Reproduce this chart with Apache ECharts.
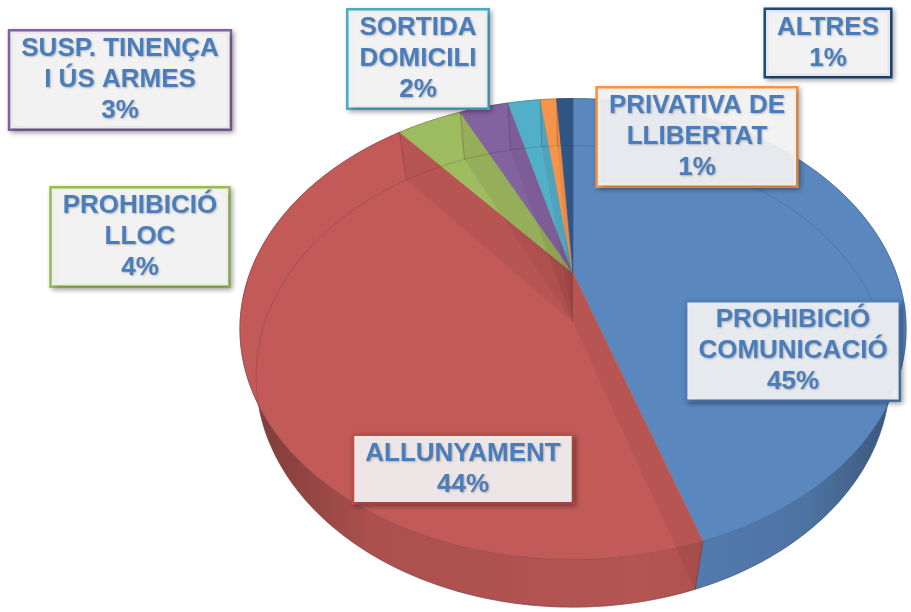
<!DOCTYPE html>
<html>
<head>
<meta charset="utf-8">
<script src="https://cdn.jsdelivr.net/npm/echarts@6/dist/echarts.min.js"></script>
<style>
  html, body { margin: 0; padding: 0; background: #fff; }
  #main { width: 911px; height: 612px; }
</style>
</head>
<body>
<div id="main"></div>
<script>
// dades
const categories = ['PROHIBICIÓ\nCOMUNICACIÓ', 'ALLUNYAMENT', 'PROHIBICIÓ\nLLOC', 'SUSP. TINENÇA\nI ÚS ARMES', 'SORTIDA\nDOMICILI', 'PRIVATIVA DE\nLLIBERTAT', 'ALTRES'];
const values = [45, 44, 4, 3, 2, 1, 1];
const colors = ['#5b87bf', '#c25b58', '#9dbb5f', '#8263a0', '#52afc8', '#f6954a', '#2f5685'];
const borderColors = ['#4f81bd', '#c0504d', '#9bbb59', '#8064a2', '#4bacc6', '#f79646', '#1f497d'];
// posició de les etiquetes (centre de la caixa)
const labelPos = [[793, 351], [463, 469], [140, 237], [120, 80], [418, 59], [697, 137], [828, 43]];

const total = values.reduce((a, b) => a + b, 0);
let acc = 0;
const pieData = values.map((v, i) => {
  const item = { name: categories[i], value: [acc, v, i] };
  acc += v;
  return item;
});

// enfosquir un color
function shade(hex, k) {
  const c = echarts.color.parse(hex);
  return 'rgb(' + Math.round(c[0] * k) + ',' + Math.round(c[1] * k) + ',' + Math.round(c[2] * k) + ')';
}

// perspectiva del pastís 3D
const cx = 573, cy = 273, f = 985, D = 3.049, sa = 0.671, ca = 0.741, h = 0.218;
function proj(theta, r, y) {
  const X = r * Math.sin(theta), Z = -r * Math.cos(theta);
  const depth = D - y * sa - Z * ca;
  return [cx + f * X / depth, cy + f * (Z * sa - y * ca) / depth];
}
function angles(api) {
  const a0 = api.value(0) / total * Math.PI * 2;
  const a1 = (api.value(0) + api.value(1)) / total * Math.PI * 2;
  return [a0, a1];
}
function arc(a0, a1, y) {
  const n = Math.max(2, Math.ceil((a1 - a0) / (Math.PI / 180)));
  const pts = [];
  for (let k = 0; k <= n; k++) pts.push(proj(a0 + (a1 - a0) * k / n, 1, y));
  return pts;
}

const chartDom = document.getElementById('main');
const myChart = echarts.init(chartDom);

const option = {
  backgroundColor: '#fff',
  animation: false,
  series: [
    {
      // parets exteriors
      type: 'custom',
      coordinateSystem: 'none',
      z: 1,
      data: pieData,
      renderItem: (params, api) => {
        const [a0, a1] = angles(api);
        const i = api.value(2);
        const top = arc(a0, a1, 0);
        const bot = arc(a0, a1, -h).reverse();
        const base = colors[i];
        return {
          type: 'polygon',
          shape: { points: top.concat(bot) },
          style: {
            fill: {
              type: 'linear', x: 235, y: 0, x2: 910, y2: 0, global: true,
              colorStops: [
                { offset: 0, color: shade(base, 0.62) },
                { offset: 0.2, color: shade(base, 0.88) },
                { offset: 0.6, color: shade(base, 0.93) },
                { offset: 0.85, color: shade(base, 0.85) },
                { offset: 1, color: shade(base, 0.6) }
              ]
            },
            stroke: shade(base, 0.8),
            lineWidth: 0.6
          }
        };
      }
    },
    {
      // cara superior
      type: 'custom',
      coordinateSystem: 'none',
      z: 2,
      data: pieData,
      renderItem: (params, api) => {
        const [a0, a1] = angles(api);
        const i = api.value(2);
        const pts = [proj(0, 0, 0)].concat(arc(a0, a1, 0));
        return {
          type: 'polygon',
          shape: { points: pts },
          style: { fill: colors[i], stroke: colors[i], lineWidth: 0.6 }
        };
      }
    },
    {
      // parets radials i vora inferior vistes per transparència
      type: 'custom',
      coordinateSystem: 'none',
      z: 3,
      data: pieData,
      renderItem: (params, api) => {
        const [a0, a1] = angles(api);
        const children = [];
        if (a0 > 0) {
          children.push({
            type: 'polygon',
            shape: { points: [proj(a0, 0, 0), proj(a0, 1, 0), proj(a0, 1, -h), proj(a0, 0, -h)] },
            style: { fill: 'rgba(70,20,20,0.08)' }
          });
          children.push({
            type: 'polyline',
            shape: { points: [proj(a0, 1, 0), proj(a0, 1, -h)] },
            style: { fill: null, stroke: 'rgba(70,20,20,0.25)', lineWidth: 1 }
          });
        }
        children.push({
          type: 'polyline',
          shape: { points: arc(a0, a1, -h) },
          style: { fill: null, stroke: 'rgba(40,40,60,0.2)', lineWidth: 1 }
        });
        children.push({
          type: 'polyline',
          shape: { points: arc(a0, a1, 0) },
          style: { fill: null, stroke: 'rgba(40,40,60,0.18)', lineWidth: 1 }
        });
        return { type: 'group', children };
      }
    },
    {
      // etiquetes
      type: 'custom',
      coordinateSystem: 'none',
      z: 4,
      data: pieData,
      renderItem: (params, api) => {
        const i = api.value(2);
        const pct = Math.round(api.value(1) / total * 100);
        return {
          type: 'text',
          style: {
            text: categories[i] + '\n' + pct + '%',
            x: labelPos[i][0],
            y: labelPos[i][1],
            align: 'center',
            verticalAlign: 'middle',
            fill: '#4a7dbb',
            font: 'bold 26px "Liberation Sans", Arial, sans-serif',
            lineHeight: 31,
            backgroundColor: 'rgba(248,248,248,0.9)',
            borderColor: borderColors[i],
            borderWidth: 2.5,
            padding: [2, 11, 2, 11],
            shadowColor: 'rgba(0,0,0,0.3)',
            shadowBlur: 5,
            shadowOffsetX: 2,
            shadowOffsetY: 2,
            textShadowColor: 'rgba(0,0,0,0.25)',
            textShadowBlur: 2,
            textShadowOffsetX: 1,
            textShadowOffsetY: 1
          }
        };
      }
    }
  ]
};

option && myChart.setOption(option);
</script>
</body>
</html>
